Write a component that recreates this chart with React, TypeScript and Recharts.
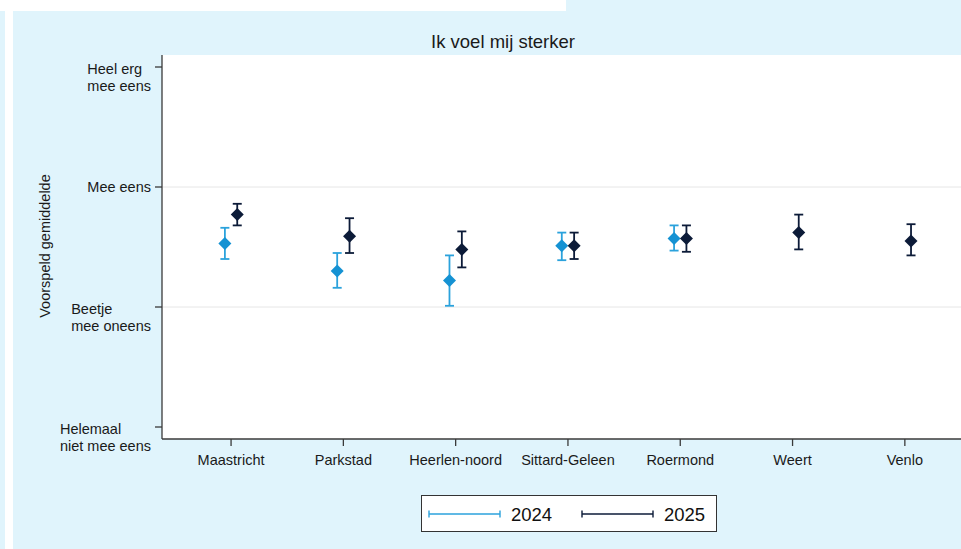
import { ScatterChart, Scatter, XAxis, YAxis, CartesianGrid, ErrorBar, Legend } from "recharts";

const categories = ["Maastricht", "Parkstad", "Heerlen-noord", "Sittard-Geleen", "Roermond", "Weert", "Venlo"];

// predicted mean + 95% CI (1 = helemaal niet mee eens ... 4 = heel erg mee eens)
const mean2024 = [2.53, 2.3, 2.22, 2.51, 2.57, null, null];
const lo2024 = [2.4, 2.16, 2.01, 2.39, 2.47, null, null];
const hi2024 = [2.66, 2.45, 2.43, 2.62, 2.68, null, null];

const mean2025 = [2.77, 2.59, 2.48, 2.51, 2.57, 2.62, 2.55];
const lo2025 = [2.68, 2.45, 2.33, 2.4, 2.46, 2.48, 2.43];
const hi2025 = [2.86, 2.74, 2.63, 2.62, 2.68, 2.77, 2.69];

const yTicks = [1, 2, 3, 4];
const yTickLabels = [["Helemaal", "niet mee eens"], ["Beetje", "mee oneens"], ["Mee eens"], ["Heel erg", "mee eens"]];

const BLUE = "#1592d3";
const BLUE_BAR = "#2ba2dc";
const NAVY = "#0c1b38";
const BG = "#e0f4fc";
const FONT = '"Liberation Sans", Arial, sans-serif';
const DODGE = 0.055;

const toRows = (mean: (number | null)[], lo: (number | null)[], hi: (number | null)[], shift: number) =>
  mean.flatMap((m, i) =>
    m == null ? [] : [{ x: i + 1 + shift, y: m, err: [m - (lo[i] as number), (hi[i] as number) - m] }]
  );

const rows2024 = toRows(mean2024, lo2024, hi2024, -DODGE);
const rows2025 = toRows(mean2025, lo2025, hi2025, DODGE);

let ctx: CanvasRenderingContext2D | null = null;
function textWidth(s: string) {
  if (!ctx) ctx = document.createElement("canvas").getContext("2d");
  if (!ctx) return s.length * 7;
  ctx.font = `14.5px ${FONT}`;
  return ctx.measureText(s).width;
}

const diamond = (color: string) => (props: any) => {
  const { cx, cy } = props;
  const r = 6.5;
  return <path d={`M${cx},${cy - r}L${cx + r},${cy}L${cx},${cy + r}L${cx - r},${cy}Z`} fill={color} />;
};

function YTick(props: any) {
  const { x, y, payload } = props;
  const idx = yTicks.indexOf(payload.value);
  const lines = yTickLabels[idx] || [];
  const w = Math.max(...lines.map(textWidth));
  const left = x - 4 - w;
  const first = lines.length > 1 ? y + 6.5 : y + 5;
  return (
    <text x={left} y={first} fill="#1a1a1a" fontSize={14.5} fontFamily={FONT} textAnchor="start">
      {lines.map((l, i) => (
        <tspan key={i} x={left} y={first + i * 17}>
          {l}
        </tspan>
      ))}
    </text>
  );
}

function LegendBox() {
  const item = (color: string, label: string, x0: number) => (
    <g>
      <line x1={x0} x2={x0 + 71} y1={18} y2={18} stroke={color} strokeWidth={1.6} />
      <line x1={x0} x2={x0} y1={14.5} y2={21.5} stroke={color} strokeWidth={1.4} />
      <line x1={x0 + 71} x2={x0 + 71} y1={14.5} y2={21.5} stroke={color} strokeWidth={1.4} />
      <text x={x0 + 82} y={24.5} fontSize={18.5} fontFamily={FONT} fill="#111">
        {label}
      </text>
    </g>
  );
  return (
    <div style={{ position: "relative", width: 961, height: 60 }}>
      <svg
        width={296}
        height={37}
        style={{ position: "absolute", left: 421, top: 6, background: "#fff", border: "1px solid #333", boxSizing: "border-box" }}
      >
        {item(BLUE_BAR, "2024", 7)}
        {item(NAVY, "2025", 160)}
      </svg>
    </div>
  );
}

export default function App() {
  return (
    <div style={{ position: "absolute", left: 0, top: 0, width: 961, height: 549, background: "#fff", overflow: "hidden", fontFamily: FONT }}>
      <div style={{ position: "absolute", left: 0, top: 11, width: 5, height: 538, background: BG }} />
      <div style={{ position: "absolute", left: 13, top: 11, width: 948, height: 538, background: BG }} />
      <div style={{ position: "absolute", left: 566, top: 0, width: 395, height: 11, background: BG }} />
      <div style={{ position: "absolute", left: 303, width: 400, top: 31, textAlign: "center", fontSize: 18.5, color: "#1a1a1a" }}>
        Ik voel mij sterker
      </div>
      <div
        style={{
          position: "absolute",
          left: 45,
          top: 246,
          transform: "translate(-50%, -50%) rotate(-90deg)",
          whiteSpace: "nowrap",
          fontSize: 14.5,
          color: "#1a1a1a",
        }}
      >
        Voorspeld gemiddelde
      </div>
      <div style={{ position: "absolute", left: 0, top: 0 }}>
        <ScatterChart width={961} height={549} margin={{ top: 55, right: 0, bottom: 0, left: 0 }}>
          <CartesianGrid fill="#fff" vertical={false} horizontalValues={[2, 3]} stroke="#e6e6e6" strokeWidth={1} />
          <XAxis
            type="number"
            dataKey="x"
            domain={[0.385, 7.5]}
            ticks={[1, 2, 3, 4, 5, 6, 7]}
            tickFormatter={(v: number) => categories[Math.round(v) - 1]}
            height={50}
            tickSize={7}
            tickMargin={9}
            allowDataOverflow
            stroke="#3a3a3a"
            strokeWidth={1.3}
            tick={{ fill: "#1a1a1a", fontSize: 14.5, fontFamily: FONT }}
            interval={0}
          />
          <YAxis
            type="number"
            dataKey="y"
            domain={[0.9, 4.1]}
            ticks={yTicks}
            width={162}
            tickSize={7}
            tickMargin={0}
            allowDataOverflow
            stroke="#3a3a3a"
            strokeWidth={1.3}
            tick={<YTick />}
            interval={0}
          />
          <Legend verticalAlign="bottom" content={() => <LegendBox />} wrapperStyle={{ left: 0, width: 961 }} />
          <Scatter name="2024" data={rows2024} fill={BLUE} shape={diamond(BLUE)} isAnimationActive={false}>
            <ErrorBar dataKey="err" direction="y" width={4.5} stroke={BLUE_BAR} strokeWidth={1.8} isAnimationActive={false} />
          </Scatter>
          <Scatter name="2025" data={rows2025} fill={NAVY} shape={diamond(NAVY)} isAnimationActive={false}>
            <ErrorBar dataKey="err" direction="y" width={4.5} stroke={NAVY} strokeWidth={1.8} isAnimationActive={false} />
          </Scatter>
        </ScatterChart>
      </div>
    </div>
  );
}
